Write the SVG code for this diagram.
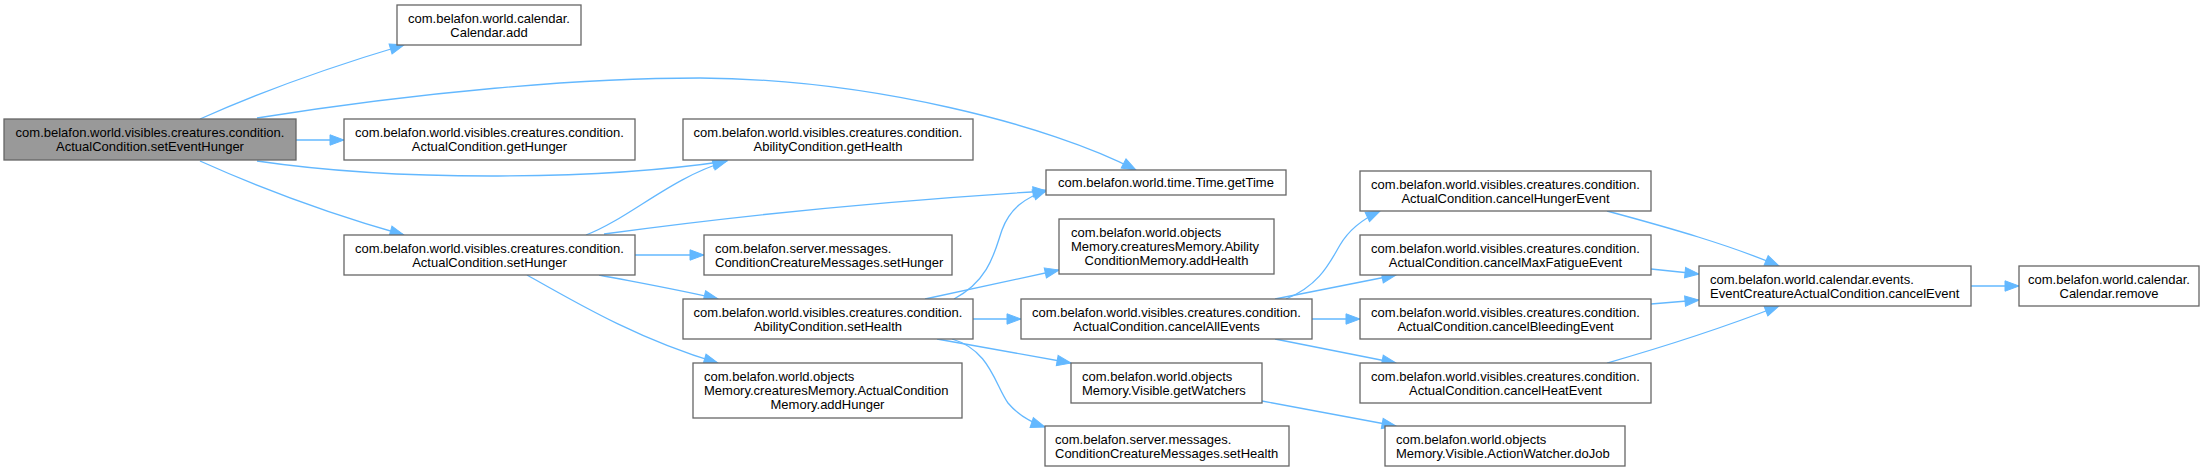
<svg xmlns="http://www.w3.org/2000/svg" width="2203" height="472" viewBox="0 0 2203 472">
<style>
.node rect{fill:#ffffff;stroke:#666666;stroke-width:1.3}
.root rect{fill:#999999;stroke:#666666;stroke-width:1.3}
text{font-family:"Liberation Sans",Arial,sans-serif;font-size:13px;fill:#000000}
.c{text-anchor:middle}
.l{text-anchor:start}
.edges path{fill:none;stroke:#63b8ff;stroke-width:1.3;marker-end:url(#arr)}
</style>
<defs>
<marker id="arr" markerUnits="userSpaceOnUse" markerWidth="17" markerHeight="13" refX="15" refY="6.5" orient="auto" overflow="visible">
<path d="M1,1.3 L15,6.5 L1,11.7 z" fill="#63b8ff" stroke="#63b8ff" stroke-width="1"/>
</marker>
</defs>
<rect width="2203" height="472" fill="#ffffff"/>
<g class="edges" id="edges">
<path d="M200,119 C258,93 330,67 404,45"/>
<path d="M257,118 C420,92 580,78 700,78 C870,79 1050,125 1136,170"/>
<path d="M296,140 L344,140"/>
<path d="M257,161 C400,182 600,180 727,161"/>
<path d="M200,161 C260,188 330,214 404,235"/>
<path d="M586,235 C630,218 670,178 727,161"/>
<path d="M604,234 C750,214 900,200 1047,191"/>
<path d="M635,255 L704,255"/>
<path d="M599,275 C640,283 680,290 718,299"/>
<path d="M527,275 C580,305 640,340 718,363"/>
<path d="M954,299 C990,280 995,250 1002,230 C1010,208 1025,198 1047,190"/>
<path d="M925,299 L1059,270"/>
<path d="M973,319 L1021,319"/>
<path d="M937,339 L1071,363"/>
<path d="M952,339 C990,350 995,385 1008,403 C1018,415 1030,422 1045,427"/>
<path d="M1286,299 C1320,285 1330,262 1340,245 C1350,228 1365,218 1380,211"/>
<path d="M1275,299 L1396,275"/>
<path d="M1312,319 L1360,319"/>
<path d="M1275,339 L1396,363"/>
<path d="M1262,401 L1396,426"/>
<path d="M1607,211 C1670,228 1730,245 1779,266"/>
<path d="M1651,269 L1699,274"/>
<path d="M1651,304 L1699,300"/>
<path d="M1607,363 C1670,345 1730,325 1779,306"/>
<path d="M1971,286 L2019,286"/>
</g>
<g id="n0" class="root"><rect x="4" y="119" width="292" height="41"/>
<text class="c" x="150" y="137">com.belafon.world.visibles.creatures.condition.</text>
<text class="c" x="150" y="151">ActualCondition.setEventHunger</text></g>
<g id="n1" class="node"><rect x="397" y="5" width="184" height="40"/>
<text class="c" x="489" y="23">com.belafon.world.calendar.</text>
<text class="c" x="489" y="37">Calendar.add</text></g>
<g id="n2" class="node"><rect x="344" y="119" width="291" height="41"/>
<text class="c" x="489.5" y="137">com.belafon.world.visibles.creatures.condition.</text>
<text class="c" x="489.5" y="151">ActualCondition.getHunger</text></g>
<g id="n3" class="node"><rect x="683" y="119" width="290" height="41"/>
<text class="c" x="828" y="137">com.belafon.world.visibles.creatures.condition.</text>
<text class="c" x="828" y="151">AbilityCondition.getHealth</text></g>
<g id="n4" class="node"><rect x="1046" y="170" width="240" height="25"/>
<text class="c" x="1166" y="187">com.belafon.world.time.Time.getTime</text></g>
<g id="n5" class="node"><rect x="344" y="235" width="291" height="40"/>
<text class="c" x="489.5" y="253">com.belafon.world.visibles.creatures.condition.</text>
<text class="c" x="489.5" y="267">ActualCondition.setHunger</text></g>
<g id="n6" class="node"><rect x="704" y="235" width="248" height="40"/>
<text class="l" x="715" y="253">com.belafon.server.messages.</text>
<text class="l" x="715" y="267">ConditionCreatureMessages.setHunger</text></g>
<g id="n7" class="node"><rect x="683" y="299" width="290" height="40"/>
<text class="c" x="828" y="317">com.belafon.world.visibles.creatures.condition.</text>
<text class="c" x="828" y="331">AbilityCondition.setHealth</text></g>
<g id="n8" class="node"><rect x="693" y="363" width="269" height="55"/>
<text class="l" x="704" y="381">com.belafon.world.objects</text>
<text class="l" x="704" y="395">Memory.creaturesMemory.ActualCondition</text>
<text class="c" x="827.5" y="409">Memory.addHunger</text></g>
<g id="n9" class="node"><rect x="1059" y="219" width="215" height="55"/>
<text class="l" x="1071" y="237">com.belafon.world.objects</text>
<text class="l" x="1071" y="251">Memory.creaturesMemory.Ability</text>
<text class="c" x="1166.5" y="265">ConditionMemory.addHealth</text></g>
<g id="n10" class="node"><rect x="1021" y="299" width="291" height="40"/>
<text class="c" x="1166.5" y="317">com.belafon.world.visibles.creatures.condition.</text>
<text class="c" x="1166.5" y="331">ActualCondition.cancelAllEvents</text></g>
<g id="n11" class="node"><rect x="1071" y="363" width="191" height="40"/>
<text class="l" x="1082" y="381">com.belafon.world.objects</text>
<text class="l" x="1082" y="395">Memory.Visible.getWatchers</text></g>
<g id="n12" class="node"><rect x="1045" y="426" width="244" height="40"/>
<text class="l" x="1055" y="444">com.belafon.server.messages.</text>
<text class="l" x="1055" y="458">ConditionCreatureMessages.setHealth</text></g>
<g id="n13" class="node"><rect x="1360" y="171" width="291" height="40"/>
<text class="c" x="1505.5" y="189">com.belafon.world.visibles.creatures.condition.</text>
<text class="c" x="1505.5" y="203">ActualCondition.cancelHungerEvent</text></g>
<g id="n14" class="node"><rect x="1360" y="235" width="291" height="40"/>
<text class="c" x="1505.5" y="253">com.belafon.world.visibles.creatures.condition.</text>
<text class="c" x="1505.5" y="267">ActualCondition.cancelMaxFatigueEvent</text></g>
<g id="n15" class="node"><rect x="1360" y="299" width="291" height="40"/>
<text class="c" x="1505.5" y="317">com.belafon.world.visibles.creatures.condition.</text>
<text class="c" x="1505.5" y="331">ActualCondition.cancelBleedingEvent</text></g>
<g id="n16" class="node"><rect x="1360" y="363" width="291" height="40"/>
<text class="c" x="1505.5" y="381">com.belafon.world.visibles.creatures.condition.</text>
<text class="c" x="1505.5" y="395">ActualCondition.cancelHeatEvent</text></g>
<g id="n17" class="node"><rect x="1385" y="426" width="240" height="40"/>
<text class="l" x="1396" y="444">com.belafon.world.objects</text>
<text class="l" x="1396" y="458">Memory.Visible.ActionWatcher.doJob</text></g>
<g id="n18" class="node"><rect x="1699" y="266" width="272" height="40"/>
<text class="l" x="1710" y="284">com.belafon.world.calendar.events.</text>
<text class="l" x="1710" y="298">EventCreatureActualCondition.cancelEvent</text></g>
<g id="n19" class="node"><rect x="2019" y="266" width="180" height="40"/>
<text class="c" x="2109" y="284">com.belafon.world.calendar.</text>
<text class="c" x="2109" y="298">Calendar.remove</text></g>
</svg>
